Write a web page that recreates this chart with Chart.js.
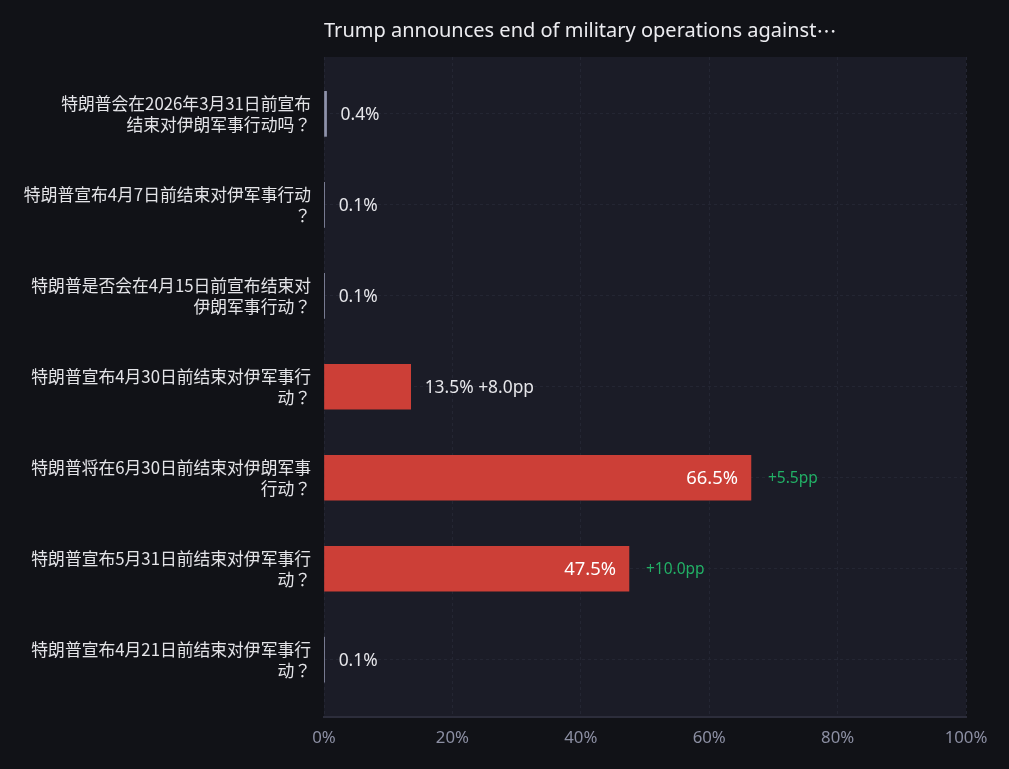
<!DOCTYPE html>
<html>
<head>
<meta charset="utf-8">
<script src="https://cdn.jsdelivr.net/npm/chart.js@4/dist/chart.umd.min.js"></script>
<style>
  html, body { margin: 0; padding: 0; background: #111217; }
  #wrap { width: 1009px; height: 769px; }
</style>
</head>
<body>
<div id="wrap"><canvas id="chart"></canvas></div>
<script>
// markets (top to bottom)
var questions = [
	["特朗普会在2026年3月31日前宣布", "结束对伊朗军事行动吗？"],
	["特朗普宣布4月7日前结束对伊军事行动", "？"],
	["特朗普是否会在4月15日前宣布结束对", "伊朗军事行动？"],
	["特朗普宣布4月30日前结束对伊军事行", "动？"],
	["特朗普将在6月30日前结束对伊朗军事", "行动？"],
	["特朗普宣布5月31日前结束对伊军事行", "动？"],
	["特朗普宣布4月21日前结束对伊军事行", "动？"]
];
var probs = [0.4, 0.1, 0.1, 13.5, 66.5, 47.5, 0.1];
var changes = [null, null, null, 8.0, 5.5, 10.0, null];
var xTicks = [0, 20, 40, 60, 80, 100];
var titleText = 'Trump announces end of military operations against';

var points = [];
for (var i = 0; i < probs.length; i++) {
	points.push({ x: probs[i], y: i });
}
var barColors = probs.map(function(v) { return v < 5 ? '#8e92aa' : '#cc3f37'; });

var FONT = "'Noto Sans', 'Noto Sans CJK JP', sans-serif";
var CJK = "'Noto Sans CJK JP', 'Noto Sans', sans-serif";

// dark plot panel behind the bars
var panelBg = {
	id: 'panelBg',
	beforeDraw: function(chart) {
		var c = chart.ctx, a = chart.chartArea;
		c.save();
		c.fillStyle = '#111217';
		c.fillRect(0, 0, chart.width, chart.height);
		c.fillStyle = '#1b1c27';
		c.fillRect(a.left, a.top, a.right - a.left, a.bottom - a.top);
		c.restore();
	}
};

// truncated title, left aligned with the plot
var titleDraw = {
	id: 'titleDraw',
	afterDraw: function(chart) {
		var c = chart.ctx, a = chart.chartArea;
		c.save();
		c.textBaseline = 'middle';
		c.textAlign = 'left';
		c.fillStyle = '#ececf0';
		c.font = '20px ' + FONT;
		c.fillText(titleText, a.left, 31);
		var w = c.measureText(titleText).width;
		c.font = '20px ' + CJK;
		c.fillText('\u22ef', a.left + w, 31);
		c.restore();
	}
};

// value + change labels
var barLabels = {
	id: 'barLabels',
	afterDatasetsDraw: function(chart) {
		var c = chart.ctx;
		var meta = chart.getDatasetMeta(0);
		c.save();
		c.textBaseline = 'middle';
		meta.data.forEach(function(bar, i) {
			var v = probs[i], d = changes[i];
			var txt = v.toFixed(1) + '%';
			if (v > 25) {
				c.font = '18.4px ' + FONT;
				c.fillStyle = '#ffffff';
				c.textAlign = 'right';
				c.fillText(txt, bar.x - 13, bar.y + 1);
				if (d !== null) {
					c.font = '15.5px ' + FONT;
					c.fillStyle = '#22b066';
					c.textAlign = 'left';
					c.fillText('+' + d.toFixed(1) + 'pp', bar.x + 17, bar.y + 1);
				}
			} else {
				if (d !== null) txt += ' +' + d.toFixed(1) + 'pp';
				c.font = '17.4px ' + FONT;
				c.fillStyle = '#e6e6ea';
				c.textAlign = 'left';
				c.fillText(txt, bar.x + 14, bar.y + 1);
			}
		});
		c.restore();
	}
};

var ctx = document.getElementById('chart');
new Chart(ctx, {
	type: 'bar',
	data: {
		datasets: [{
			data: points,
			backgroundColor: barColors,
			borderWidth: 0,
			barThickness: 45
		}]
	},
	options: {
		indexAxis: 'y',
		responsive: true,
		maintainAspectRatio: false,
		animation: false,
		layout: { padding: { left: 0, right: 43, top: 57, bottom: 0 } },
		plugins: {
			legend: { display: false },
			tooltip: { enabled: false },
			title: { display: false }
		},
		scales: {
			x: {
				type: 'linear',
				position: 'bottom',
				min: 0,
				max: 100,
				afterBuildTicks: function(s) { s.ticks = xTicks.map(function(v) { return { value: v }; }); },
				afterFit: function(s) { s.height = 52; },
				ticks: {
					color: '#8c8fa3',
					font: { family: FONT, size: 16.8 },
					padding: 11,
					callback: function(v) { return v + '%'; }
				},
				grid: { color: '#242633', drawTicks: false },
				border: { display: true, color: '#2c2d3b', width: 2, dash: [3, 3] }
			},
			y: {
				type: 'linear',
				reverse: true,
				offset: false,
				min: -0.625,
				max: 6.63,
				afterBuildTicks: function(s) { s.ticks = questions.map(function(q, i) { return { value: i }; }); },
				afterFit: function(s) { s.width = 324; },
				ticks: {
					color: '#e4e4e8',
					font: { family: CJK, size: 16.8, lineHeight: 1.25 },
					padding: 13,
					callback: function(v) { return questions[v]; }
				},
				grid: { color: '#242633', drawTicks: false, offset: false },
				border: { display: false, dash: [3, 3] }
			}
		}
	},
	plugins: [panelBg, barLabels, titleDraw]
});
</script>
</body>
</html>
